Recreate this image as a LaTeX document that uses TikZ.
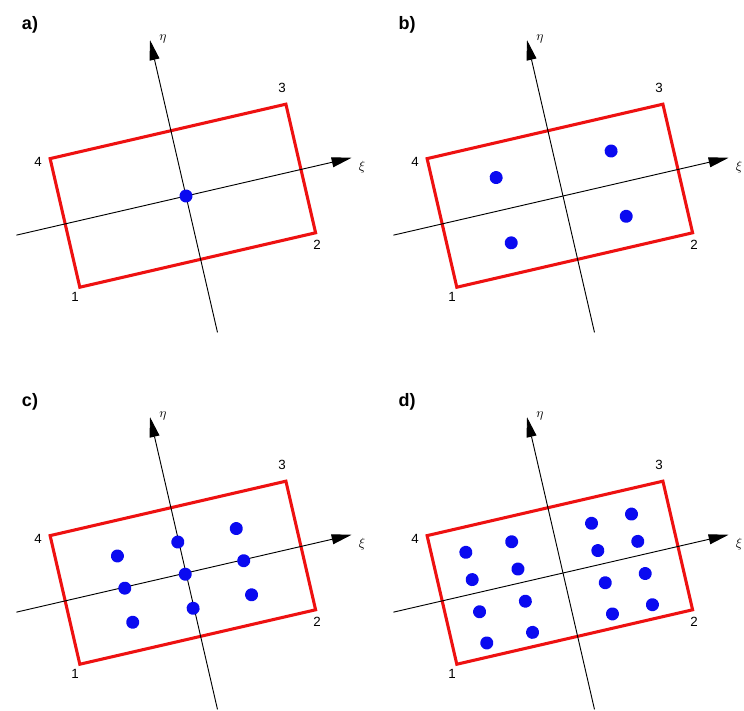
\documentclass[tikz,border=0pt]{standalone}
\usepackage{fontspec}
\setmainfont{Liberation Sans}
\usetikzlibrary{arrows.meta}
\definecolor{frameRed}{HTML}{EE1111}
\definecolor{pointBlue}{HTML}{0A0AF0}
\definecolor{axisInk}{HTML}{000000}
\tikzset{
  element edge/.style={
    draw=frameRed,
    line width=2.3pt,
    line join=miter
  },
  axis edge/.style={
    -{Triangle[length=15pt,width=7.5pt]},
    draw=axisInk,
    line width=0.7pt
  },
  gauss point/.style={
    fill=pointBlue
  },
  corner label/.style={
    font=\fontsize{10}{12}\selectfont,
    inner sep=0pt,
    text=axisInk
  },
  axis label/.style={
    font=\normalsize,
    inner sep=0pt,
    text=axisInk
  },
  panel tag/.style={
    font=\fontsize{13.5}{16}\selectfont\bfseries,
    inner sep=0pt,
    text=axisInk
  }
}

\begin{document}
\begin{tikzpicture}[x=0.75pt,y=-0.75pt]
  \useasboundingbox (0,0) rectangle (744,711);

  \foreach \p/\dx/\dy/\us/\vs in {
      a/0/0/{0}/{0},
      b/377/0/{-61,57}/{33,-34},
      c/0/377/{-63,-1,59}/{32,-1,-36},
      d/377/377/{-90,-43,39,80}/{42,14,-19,-51}} {
    \begin{scope}[shift={(\dx,\dy)}]
      \node[panel tag] (tag-\p) at (30,25) {\p)};

      \begin{scope}[shift={(186,196)},rotate=13,x=0.75pt,y=0.75pt]
        \coordinate (c1-\p) at (-124,-65);
        \coordinate (c2-\p) at (118,-65);
        \coordinate (c3-\p) at (118,67);
        \coordinate (c4-\p) at (-124,67);
        \coordinate (xs-\p) at (-174,0);
        \coordinate (xe-\p) at (170,0);
        \coordinate (es-\p) at (0,-140);
        \coordinate (ee-\p) at (0,160);
        \draw[element edge] (c1-\p) -- (c2-\p) -- (c3-\p) -- (c4-\p) -- cycle;
        \draw[axis edge] (xs-\p) -- (xe-\p);
        \draw[axis edge] (es-\p) -- (ee-\p);
        \foreach \u in \us
          \foreach \v in \vs
            \fill[gauss point] (\u,\v) circle[radius=6.5];
      \end{scope}

      \node[corner label] (n1-\p) at (75,297) {1};
      \node[corner label] (n2-\p) at (317,245) {2};
      \node[corner label] (n3-\p) at (282,88) {3};
      \node[corner label] (n4-\p) at (38,162) {4};
      \node[axis label] (xi-\p) at (362,167) {$\xi$};
      \node[axis label] (eta-\p) at (163,39) {$\eta$};
    \end{scope}
  }
\end{tikzpicture}
\end{document}
